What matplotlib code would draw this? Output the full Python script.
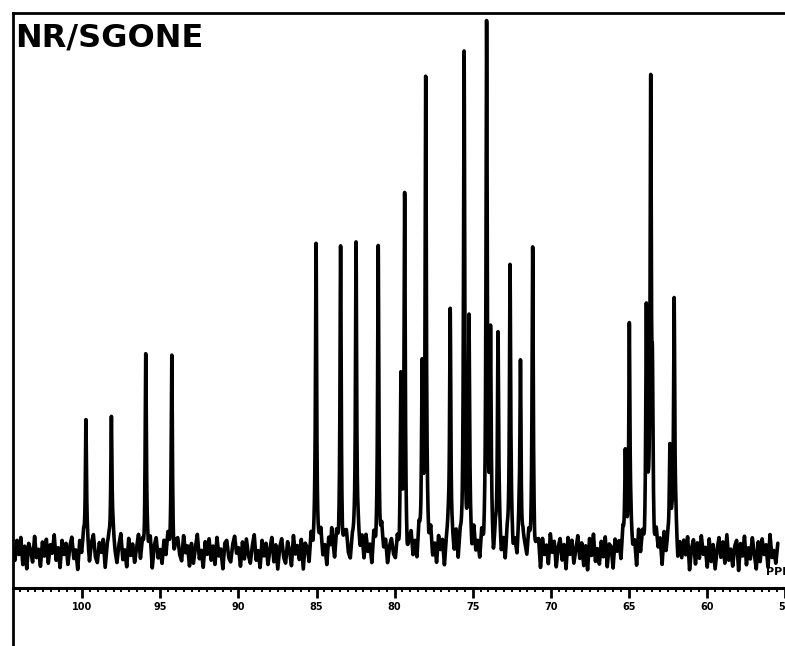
import numpy as np
import matplotlib
matplotlib.use("Agg")
import matplotlib.pyplot as plt
from matplotlib.lines import Line2D
from matplotlib.ticker import MultipleLocator

# === Peak list (ppm, height in plot units) ===
peak_ppm = [99.77, 98.14, 95.94, 94.27, 85.03, 84.03, 83.46, 82.47, 81.05,
            79.60, 79.36, 78.24, 78.01, 76.44, 75.55, 75.24, 74.11, 73.86,
            73.38, 72.61, 71.94, 71.16, 65.23, 64.97, 63.88, 63.60, 63.49,
            62.37, 62.10]
peak_height = [140, 139, 197, 194, 310, 19, 303, 325, 304,
               160, 347, 170, 474, 252, 484, 219, 514, 207,
               212, 279, 200, 288, 102, 232, 234, 460, 130,
               112, 250]

# baseline noise read as rough spike levels, left half then right half
noise_a = [3, -6, 8, -2, 10, -9, 4, -12, 6, 1, -7, 11, -4, 2, -10, 7, -3, 9, -8, 5,
           -1, 12, -6, 3, -11, 8, -2, 6, -9, 4, 10, -5, 1, -13, 7, -3, 9, -7, 2, -10,
           5, 11, -4, -8, 6, -1, 8, -12, 3, 7, -5, 10, -2, -9, 4, 12, -6, 1, -11, 9,
           -3, 5, -8, 2, 11, -7, 4, -10, 6, -2, 8, -13, 3, 9, -5, 1, -9, 7, -4, 10,
           -6, 2, -12, 5, 8, -3, -7, 11, -1, 4, -10, 6, -8, 3, 12, -5, 1, -11, 7, -2,
           9, -6, 4, -9, 10, -3, 2, -12, 6, 8, -4, -7, 5, 11, -1, 3, -10, 7, -5, 9,
           -2, -8, 4, 12, -6, 1, -11, 8, -3, 6, -9, 2, 10, -7, 5, -12, 3, 9, -4, -8,
           7, 1, -10, 11, -2, 4, -6, 8, -13, 5, 2, -9, 10, -3, 6, -7, 1, 12, -5, 3,
           -11, 8, -1, 4, -8, 9, -6, 2, -10, 7, 11, -4, -9, 5, 1, -12, 6, -3, 8, -7,
           10, -2, 3, -11, 9, -5, 4, -8, 12, -1, 6, -10, 2, 7, -4]
noise_b = [-8, 5, -11, 9, -3, 7, -13, 2, 10, -6, 4, -9, 12, -2, 6, -12, 8, -5, 11, -7,
           3, -10, 9, -1, 6, -13, 4, 11, -8, 2, -6, 10, -11, 5, -3, 8, -12, 1, 9, -7,
           12, -4, 3, -10, 7, -9, 2, 11, -5, 6, -13, 8, -1, 10, -8, 4, -11, 7, -2, 12,
           -6, 3, -9, 10, -12, 5, 1, -7, 9, -4, 11, -10, 2, 6, -13, 8, -3, 4, -9, 12,
           -1, 7, -11, 3, 9, -6, 5, -12, 10, -2, 8, -8, 1, 11, -5, 6, -10, 4, -13, 9,
           -3, 12, -7, 2, -9, 7, -4, 10, -11, 5, 3, -12, 8, -1, 6, -8, 11, -6, 2, -10,
           9, -3, 4, -13, 12, -5, 7, -9, 1, 10, -7, 3, -11, 8, -2, 6, -12, 11, -4, 5,
           -8, 9, -1, 12, -10, 4, -6, 7, -3, 10, -13, 2, 8, -9, 6, -5, 11, -2, 3, -11,
           9, -7, 5, -12, 1, 10, -4, 7, -8, 12, -6, 2, -10, 4, 8, -13, 6, -3, 11, -9,
           3, -5, 10, -1, -12, 7, -7, 9, -2, 5, -11, 12, -4, 1, -8, 6]

tick_major = [100, 95, 90, 85, 80, 75, 70, 65, 60, 55]
title = "NR/SGONE"

ppm_left, ppm_right = 104.44, 55.46
W, H = 785, 646

# === Build the trace ===
noise = np.array(noise_a + noise_b, dtype=float) * 1.45
ppm = np.linspace(ppm_left, ppm_right, 8000)
noise_ppm = np.linspace(ppm_left, ppm_right, len(noise))
base = np.interp(ppm, noise_ppm[::-1], noise[::-1])
gamma = 0.045
peaks = np.zeros_like(ppm)
for p, h in zip(peak_ppm, peak_height):
    peaks += h / (1 + ((ppm - p) / gamma) ** 2)
trace = base + peaks

fig = plt.figure(figsize=(W / 100, H / 100), dpi=100)
ax = fig.add_axes([13 / W, 1 - 588 / H, 1 - 13 / W, (588 - 13) / H])
ax.plot(ppm, trace, color="black", lw=2.6, solid_joinstyle="round",
        solid_capstyle="round")
ax.set_xlim(ppm_left, ppm_right)
ax.set_ylim(-36, 539)

ax.spines["right"].set_visible(False)
ax.spines["bottom"].set_linewidth(2.2)
ax.spines["left"].set_linewidth(2.0)
ax.spines["top"].set_linewidth(2.0)

ax.set_yticks([])
ax.set_xticks(tick_major)
ax.set_xticklabels([str(t) for t in tick_major], fontsize=7, fontweight="bold")
ax.xaxis.set_minor_locator(MultipleLocator(0.5))
ax.tick_params(axis="x", which="major", direction="out", length=7, width=2, pad=3)
ax.tick_params(axis="x", which="minor", direction="out", length=3, width=1.4)

ax.text(0.003, 0.983, title, transform=ax.transAxes, ha="left", va="top",
        fontsize=23, fontweight="bold")
ax.text(56.2, -20, "PPM", ha="left", va="center", fontsize=8, fontweight="bold",
        clip_on=False)

# left border keeps going below the scale
fig.add_artist(Line2D([13 / W, 13 / W], [0, 1 - 588 / H], transform=fig.transFigure,
                      color="black", lw=2.0))

fig.savefig("out.png", dpi=100)
